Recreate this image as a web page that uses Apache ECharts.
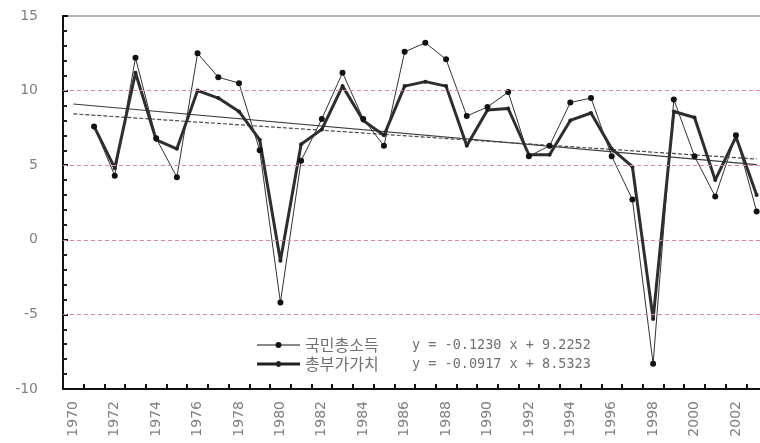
<!DOCTYPE html>
<html>
<head>
<meta charset="utf-8">
<script src="https://cdn.jsdelivr.net/npm/echarts@6.0.0/dist/echarts.min.js"></script>
<style>
  html, body { margin: 0; padding: 0; background: #fff; overflow: hidden; }
  /* the plot runs slightly past the right edge of the page */
  #chart { width: 767px; height: 443px; }
</style>
</head>
<body>
<div id="chart"></div>
<script>
// Years on the category axis (1970-2003)
var years = [];
for (var y = 1970; y <= 2003; y++) years.push(String(y));

// Annual growth rates (%), 1971-2003
var gniValues = [7.6, 4.3, 12.2, 6.8, 4.2, 12.5, 10.9, 10.5, 6.0, -4.2,
                 5.3, 8.1, 11.2, 8.1, 6.3, 12.6, 13.2, 12.1, 8.3, 8.9,
                 9.9, 5.6, 6.3, 9.2, 9.5, 5.6, 2.7, -8.3, 9.4, 5.6,
                 2.9, 7.0, 1.9];
var gvaValues = [7.6, 4.8, 11.2, 6.7, 6.1, 10.0, 9.5, 8.6, 6.7, -1.4,
                 6.4, 7.4, 10.3, 8.0, 7.0, 10.3, 10.6, 10.3, 6.3, 8.7,
                 8.8, 5.7, 5.7, 8.0, 8.5, 6.1, 4.9, -5.3, 8.6, 8.2,
                 4.0, 6.9, 3.0];

// Series names and linear trend equations shown in the legend
var seriesNames = ['국민총소득', '총부가가치'];
var gniTrend = { slope: -0.1230, intercept: 9.2252 };
var gvaTrend = { slope: -0.0917, intercept: 8.5323 };
var equations = ['y = -0.1230 x + 9.2252', 'y = -0.0917 x + 8.5323'];

// Y axis range and reference lines
var yMin = -10, yMax = 15, yStep = 5;
var refLines = [10, 5, 0, -5];

// Data begins in 1971: pad the 1970 slot
function pad(vals) { return [null].concat(vals); }

// Trend line endpoints from the equation (x counts from 1 at 1970)
function trendSeries(t) {
  var arr = years.map(function () { return null; });
  var last = years.length - 1;
  arr[0] = +(t.intercept + t.slope * 1).toFixed(4);
  arr[last] = +(t.intercept + t.slope * (last + 1)).toFixed(4);
  return arr;
}

// Legend icons: a line with a marker in the middle
var iconThin = 'path://M0,2.5h43v1h-43z M18.5,3a3,3 0 1,1 6,0a3,3 0 1,1 -6,0z';
var iconThick = 'path://M0,1.6h43v2.8h-43z M19,3a2.5,3 0 1,1 5,0a2.5,3 0 1,1 -5,0z';

var chart = echarts.init(document.getElementById('chart'), null, { renderer: 'canvas' });

var option = {
  animation: false,
  backgroundColor: '#ffffff',
  grid: {
    left: 63, top: 16, bottom: 54, right: 0,
    show: true,
    borderColor: '#b4b4b4',
    borderWidth: 2,
    backgroundColor: 'transparent'
  },
  legend: {
    data: [
      { name: seriesNames[0], icon: iconThin },
      { name: seriesNames[1], icon: iconThick }
    ],
    orient: 'vertical',
    left: 252,
    top: 332,
    itemWidth: 43,
    itemHeight: 6,
    itemGap: 3,
    selectedMode: false,
    formatter: function (name) {
      var i = seriesNames.indexOf(name);
      return '{n|' + name + '}{e|' + equations[i] + '}';
    },
    textStyle: {
      rich: {
        n: { width: 107, fontSize: 16, lineHeight: 17, color: '#707070', fontFamily: 'Noto Sans CJK KR' },
        e: { fontSize: 13.5, lineHeight: 17, color: '#707070', fontFamily: 'DejaVu Sans Mono' }
      }
    }
  },
  xAxis: {
    type: 'category',
    data: years,
    boundaryGap: true,
    axisLine: { show: true, onZero: false, lineStyle: { color: '#111', width: 2 } },
    axisTick: { show: true, inside: true, length: 5, interval: 0, lineStyle: { color: '#111', width: 2 } },
    axisLabel: {
      interval: 1,
      rotate: 90,
      margin: 12,
      fontSize: 14,
      color: '#808080',
      fontFamily: 'DejaVu Sans'
    },
    splitLine: { show: false }
  },
  yAxis: {
    type: 'value',
    min: yMin,
    max: yMax,
    interval: yStep,
    axisLine: { show: true, lineStyle: { color: '#111', width: 2 } },
    axisTick: { show: true, inside: true, length: 5, lineStyle: { color: '#111', width: 2 } },
    minorTick: { show: true, splitNumber: 5, length: 4, lineStyle: { color: '#222', width: 2 } },
    axisLabel: { margin: 25, fontSize: 14, color: '#808080', fontFamily: 'DejaVu Sans' },
    splitLine: { show: false }
  },
  series: [
    {
      name: 'ref',
      type: 'line',
      data: [],
      silent: true,
      z: 1,
      markLine: {
        silent: true,
        symbol: 'none',
        label: { show: false },
        lineStyle: { color: '#e2879a', width: 1.2, type: [4, 3] },
        data: refLines.map(function (v) { return { yAxis: v }; })
      }
    },
    {
      name: 'gniTrend',
      type: 'line',
      data: trendSeries(gniTrend),
      connectNulls: true,
      symbol: 'none',
      silent: true,
      z: 2,
      lineStyle: { color: '#3c3c3c', width: 1.2 }
    },
    {
      name: 'gvaTrend',
      type: 'line',
      data: trendSeries(gvaTrend),
      connectNulls: true,
      symbol: 'none',
      silent: true,
      z: 2,
      lineStyle: { color: '#4a4a4a', width: 1.2, type: [4, 2] }
    },
    {
      name: seriesNames[1],
      type: 'line',
      data: pad(gvaValues),
      symbol: 'circle',
      symbolSize: 4,
      showSymbol: true,
      z: 3,
      itemStyle: { color: '#222' },
      lineStyle: { color: '#2e2e2e', width: 3 }
    },
    {
      name: seriesNames[0],
      type: 'line',
      data: pad(gniValues),
      symbol: 'circle',
      symbolSize: 6,
      showSymbol: true,
      z: 4,
      itemStyle: { color: '#111' },
      lineStyle: { color: '#333', width: 1 }
    }
  ]
};

chart.setOption(option);
</script>
</body>
</html>
